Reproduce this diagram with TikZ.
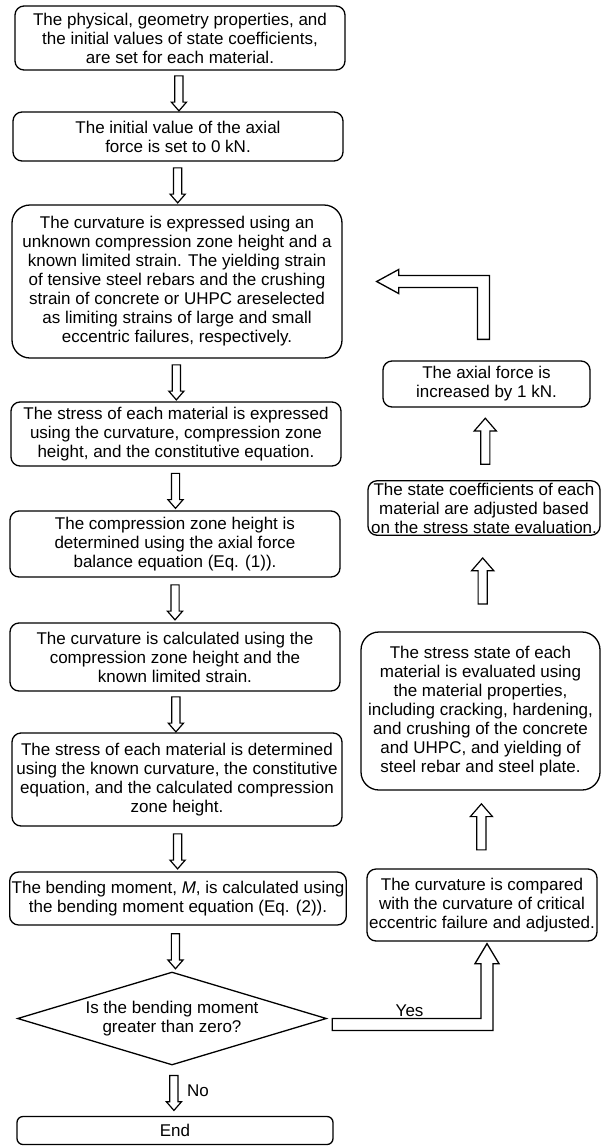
\documentclass[tikz,border=0pt]{standalone}
\usepackage{fontspec}
\setmainfont{Liberation Sans}
\usetikzlibrary{positioning,calc,shapes.geometric,shapes.arrows}

\tikzset{
  box/.style={draw, line width=1.3pt, rounded corners=9pt, align=center,
    inner xsep=2pt, inner ysep=2pt},
  lbox/.style={box, minimum width=330pt},
  downarr/.style={single arrow, draw, line width=1.2pt, shape border rotate=270,
    inner sep=3.5pt, single arrow head extend=3.5pt, single arrow tip angle=82,
    minimum height=35pt},
  uparr/.style={single arrow, draw, line width=1.2pt, shape border rotate=90,
    inner sep=4pt, single arrow head extend=6.5pt, single arrow tip angle=82,
    minimum height=46pt},
  bigarr/.style={draw, line width=1.3pt, line join=miter},
}

\begin{document}
\begin{tikzpicture}[x=1pt, y=-1pt, font=\fontsize{17}{19}\selectfont]

  \useasboundingbox (0,0) rectangle (605,1146);

  % left column
  \node [lbox, minimum height=64pt] (set) at (180,38)
    {The physical, geometry properties, and\\the initial values of state coefficients,\\are set for each material.};
  \node [lbox, minimum height=49pt] (init) at (178,136.5)
    {The initial value of the axial\\force is set to 0 kN.};
  \node [lbox, minimum height=153pt, rounded corners=18pt] (expr) at (177,281.5)
    {The curvature is expressed using an\\unknown compression zone height and a\\known limited strain. The yielding strain\\of tensive steel rebars and the crushing\\strain of concrete or UHPC areselected\\as limiting strains of large and small\\eccentric failures, respectively.};
  \node [lbox, minimum height=64pt] (strexp) at (176,434)
    {The stress of each material is expressed\\using the curvature, compression zone\\height, and the constitutive equation.};
  \node [lbox, minimum height=66pt] (height) at (175,544)
    {The compression zone height is\\determined using the axial force\\balance equation (Eq. (1)).};
  \node [lbox, minimum height=68pt] (curv) at (175,657)
    {The curvature is calculated using the\\compression zone height and the\\known limited strain.};
  \node [lbox, minimum height=93pt] (strdet) at (177,779.5)
    {The stress of each material is determined\\using the known curvature, the constitutive\\equation, and the calculated compression\\zone height.};
  \node [lbox, minimum height=53pt] (moment) at (178,898.5)
    {The bending moment, \textit{M}, is calculated using\\the bending moment equation (Eq. (2)).};
  \node [diamond, draw, line width=1.3pt, aspect=3.4, inner sep=0pt, align=center,
    minimum width=309pt, minimum height=93pt] (posm) at (172,1018.5)
    {Is the bending moment\\greater than zero?};
  \node [box, rounded corners=6pt, minimum width=316pt, minimum height=28pt] (stop) at (175,1130.5) {End};

  % right column
  \node [box, minimum width=207pt, minimum height=46pt] (incr) at (486.5,384)
    {The axial force is\\increased by 1 kN.};
  \node [box, minimum width=232pt, minimum height=52pt] (coef) at (484,508)
    {The state coefficients of each\\material are adjusted based\\on the stress state evaluation.};
  \node [box, minimum width=239pt, minimum height=158pt, rounded corners=18pt] (eval) at (480.5,711)
    {The stress state of each\\material is evaluated using\\the material properties,\\including cracking, hardening,\\and crushing of the concrete\\and UHPC, and yielding of\\steel rebar and steel plate.};
  \node [box, minimum width=230pt, minimum height=72pt] (comp) at (482,905)
    {The curvature is compared\\with the curvature of critical\\eccentric failure and adjusted.};

  % hollow arrows down the left column
  \path (set) -- (init) node [midway, downarr] {};
  \path (init) -- (expr) node [midway, downarr] {};
  \path (expr) -- (strexp) node [midway, downarr] {};
  \path (strexp) -- (height) node [midway, downarr] {};
  \path (height) -- (curv) node [midway, downarr] {};
  \path (curv) -- (strdet) node [midway, downarr] {};
  \path (strdet) -- (moment) node [midway, downarr] {};
  \path (moment) -- (posm) node [midway, downarr] {};
  \path (posm) -- (stop) node [midway, downarr] (noarr) {};
  \node [right=12pt of noarr.center, inner sep=1pt] (no) {No};

  % hollow arrows up the right column
  \path (comp) -- (eval) node [midway, uparr] {};
  \path (eval) -- (coef) node [midway, uparr] {};
  \path (coef) -- (incr) node [midway, uparr] {};

  % Yes: diamond -> comp
  \coordinate (ya) at ($(posm.east)+(5,0)$);
  \coordinate (yb) at ($(comp.south)+(5,2)$);
  \draw [bigarr] (ya) -- ($(ya -| yb)+(-6,0)$) -- ($(yb)+(-6,20)$) -- ($(yb)+(-12,20)$) --
    (yb) -- ($(yb)+(12,20)$) -- ($(yb)+(6,20)$) -- ($(ya -| yb)+(6,12)$) --
    ($(ya)+(0,12)$) -- cycle;
  \node [anchor=south, inner sep=1pt] (yes) at ($(ya)!0.5!(ya -| yb)+(0,-1)$) {Yes};

  % back to expr: incr -> expr
  \coordinate (lt) at ($(expr.east)+(34,0)$);
  \coordinate (lb) at ($(incr.north)+(-3,-21)$);
  \draw [bigarr] (lt) -- ($(lt)+(22,-12)$) -- ($(lt)+(22,-6)$) -- ($(lt -| lb)+(6,-6)$) --
    ($(lb)+(6,0)$) -- ($(lb)+(-6,0)$) -- ($(lt -| lb)+(-6,6)$) -- ($(lt)+(22,6)$) --
    ($(lt)+(22,12)$) -- cycle;

\end{tikzpicture}
\end{document}
